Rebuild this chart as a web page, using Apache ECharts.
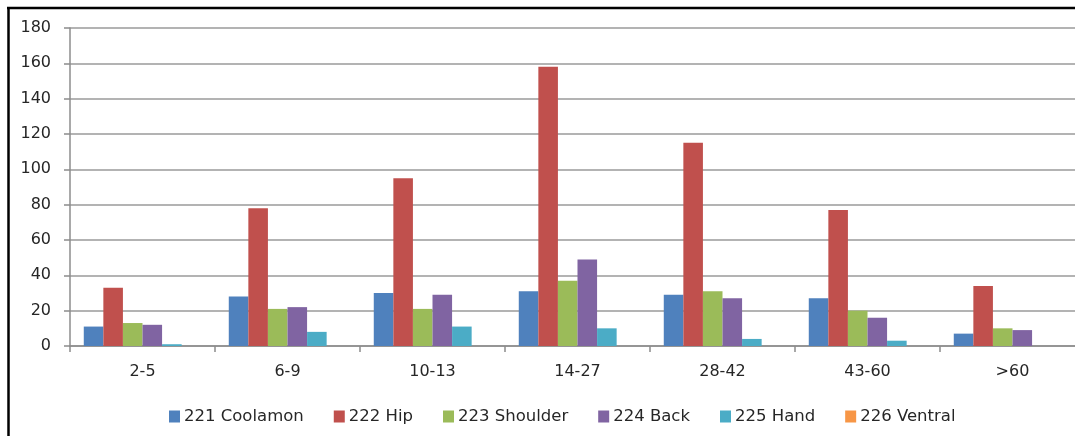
<!DOCTYPE html>
<html>
<head>
<meta charset="utf-8">
<style>
  html, body { margin: 0; padding: 0; background: #ffffff; overflow: hidden; }
  #chart { width: 1100px; height: 436px; }
</style>
<script src="https://cdn.jsdelivr.net/npm/echarts@6/dist/echarts.min.js"></script>
</head>
<body>
<div id="chart"></div>
<script>
// Age classes along the horizontal axis
const categories = ['2-5', '6-9', '10-13', '14-27', '28-42', '43-60', '>60'];

// Counts per carrying position
const coolamon = [11, 28, 30, 31, 29, 27, 7];
const hip      = [33, 78, 95, 158, 115, 77, 34];
const shoulder = [13, 21, 21, 37, 31, 20, 10];
const back     = [12, 22, 29, 49, 27, 16, 9];
const hand     = [1, 8, 11, 10, 4, 3, 0];
const ventral  = [0, 0, 0, 0, 0, 0, 0];

const seriesNames = ['221 Coolamon', '222 Hip', '223 Shoulder', '224 Back', '225 Hand', '226 Ventral'];
const seriesData = [coolamon, hip, shoulder, back, hand, ventral];
const colors = ['#4F81BD', '#C0504D', '#9BBB59', '#8064A2', '#4BACC6', '#F79646'];

const FONT = '"DejaVu Sans", Verdana, sans-serif';
const TEXT = '#262626';

const chart = echarts.init(document.getElementById('chart'), null, { renderer: 'canvas' });

chart.setOption({
  backgroundColor: '#ffffff',
  animation: false,
  color: colors,
  // chart frame: top and left edges only, the rest lies outside the window
  graphic: [
    {
      type: 'line', silent: true, z: 100,
      shape: { x1: 7, y1: 8, x2: 1100, y2: 8 },
      style: { stroke: '#000000', lineWidth: 2.5 }
    },
    {
      type: 'line', silent: true, z: 100,
      shape: { x1: 8.5, y1: 7, x2: 8.5, y2: 436 },
      style: { stroke: '#000000', lineWidth: 2.5 }
    }
  ],
  // plot area runs on past the right edge of the visible window
  grid: { left: 70, top: 28, right: 15, height: 318, containLabel: false },
  legend: {
    left: 164,
    top: 403,
    itemWidth: 11,
    itemHeight: 12,
    itemGap: 30,
    icon: 'rect',
    textStyle: { fontFamily: FONT, fontSize: 16.5, color: TEXT, padding: [0, 0, 0, -1] },
    data: seriesNames
  },
  xAxis: {
    type: 'category',
    data: categories,
    axisLine: { lineStyle: { color: '#8c8c8c', width: 1.5 } },
    axisTick: { show: true, length: 6, alignWithLabel: false, lineStyle: { color: '#8c8c8c', width: 1.5 } },
    axisLabel: { fontFamily: FONT, fontSize: 16, color: TEXT, margin: 18 },
    splitLine: { show: false }
  },
  yAxis: {
    type: 'value',
    min: 0, max: 180, interval: 20,
    axisLine: { show: true, lineStyle: { color: '#8c8c8c', width: 1.5 } },
    axisTick: { show: true, length: 6, lineStyle: { color: '#8c8c8c', width: 1.5 } },
    axisLabel: { fontFamily: FONT, fontSize: 16, color: TEXT, margin: 19 },
    splitLine: { show: true, lineStyle: { color: '#9a9a9a', width: 1.5 } }
  },
  series: seriesNames.map((name, i) => ({
    name: name,
    type: 'bar',
    data: seriesData[i],
    barGap: '0%',
    barCategoryGap: '19%',
    itemStyle: { color: colors[i] }
  }))
});
</script>
</body>
</html>
